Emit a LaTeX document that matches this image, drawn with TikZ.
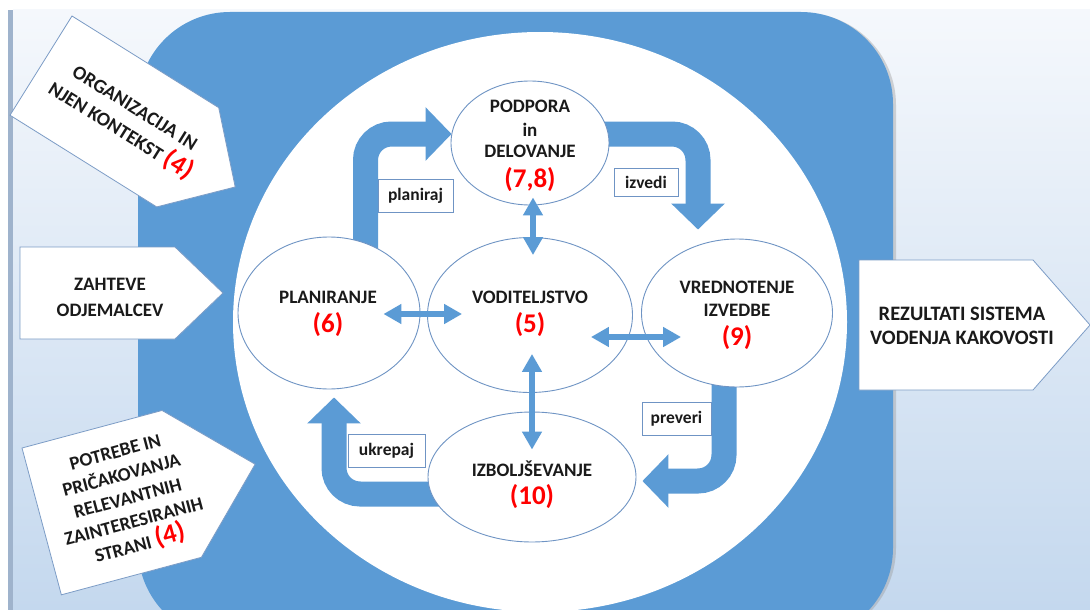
\documentclass[tikz,border=0pt]{standalone}
\usepackage{fontspec}
\setmainfont{Carlito}
\usetikzlibrary{shapes.geometric, arrows.meta, calc}
\definecolor{mblue}{HTML}{5B9BD5}
\definecolor{ebord}{HTML}{6F94C4}
\definecolor{abord}{HTML}{7C9CC6}
\definecolor{bgtop}{HTML}{F5F8FC}
\definecolor{bgbot}{HTML}{C4D8EE}
\definecolor{barc}{HTML}{9FB3CC}
\definecolor{numred}{HTML}{FF0000}
\definecolor{txt}{HTML}{1A1A1A}
\newcommand{\num}[1]{{\color{numred}\fontsize{27}{28}\selectfont #1}}
\pgfdeclarelayer{bg}
\pgfdeclarelayer{arr}
\pgfsetlayers{bg,arr,main}
\begin{document}
\begin{tikzpicture}[x=1pt,y=-1pt,
  bubble/.style={ellipse, draw=ebord, line width=0.9pt, fill=white, inner sep=0pt},
  etext/.style={align=center, font=\fontsize{19}{24}\selectfont\bfseries, text=txt, inner sep=0pt},
  atext/.style={align=center, font=\fontsize{19}{25}\selectfont\bfseries, text=txt, inner sep=0pt},
  lbl/.style={rectangle, draw=ebord, line width=0.9pt, fill=white, text=txt,
              font=\fontsize{17.5}{19}\selectfont\bfseries, inner sep=0pt},
  bent/.style={draw=mblue, line width=25pt, rounded corners=26pt,
               -{Triangle[length=26pt, width=52pt]}},
  dbl/.style={draw=mblue, line width=6.5pt,
              {Triangle[length=18pt,width=19pt]}-{Triangle[length=18pt,width=19pt]}},
  pent/.style={fill=white, draw=abord, line width=0.8pt, line join=miter}
]
\useasboundingbox (0,0) rectangle (1090,610);

\begin{pgfonlayer}{bg}
  \fill[white] (0,0) rectangle (1090,610);
  \shade[top color=bgtop, bottom color=bgbot] (13,10) rectangle (1090,610);
  \fill[barc] (8,10) rectangle (13,610);
  \fill[black!40, opacity=0.4, rounded corners=92pt] (141,13) rectangle (896,640);
  \fill[mblue, rounded corners=92pt] (138,12) rectangle (893,640);
  \fill[white] (540,322) ellipse [x radius=307pt, y radius=290pt];
\end{pgfonlayer}

% ellipses
\node[bubble, minimum width=158pt, minimum height=124pt] (pod) at (530,143) {};
\node[bubble, minimum width=182pt, minimum height=152pt] (plan) at (329,313) {};
\node[bubble, minimum width=205pt, minimum height=155pt] (vod) at (530,315) {};
\node[bubble, minimum width=191pt, minimum height=148pt] (vred) at (737,313) {};
\node[bubble, minimum width=208pt, minimum height=130pt] (izb) at (532,477) {};

\node[etext] (podt) at (530,146) {PODPORA\\in\\[-3pt]DELOVANJE\\[6pt]\num{(7,8)}};
\node[etext] (plant) at (328,314) {PLANIRANJE\\[5pt]\num{(6)}};
\node[etext] (vodt) at (530,314) {VODITELJSTVO\\[5pt]\num{(5)}};
\node[etext] (vredt) at (737,315) {VREDNOTENJE\\[-1pt]IZVEDBE\\[5pt]\num{(9)}};
\node[etext] (izbt) at (532,485) {IZBOLJŠEVANJE\\[4pt]\num{(10)}};

% bent block arrows (behind ellipses)
\begin{pgfonlayer}{arr}
  \draw[bent] ($(plan.center)+(36.5,-20)$) |- ($(pod.west)+(1,-9)$);
  \draw[bent] ($(pod.center)+(30,-9)$) -| ($(vred.north)+(-39,-9)$);
  \draw[bent] ($(vred.center)+(-13,40)$) |- ($(izb.east)+(6,4)$);
  \draw[bent] ($(izb.center)+(-40,17)$) -| ($(plan.south)+(5,8)$);
\end{pgfonlayer}

% double arrows
\draw[dbl] ($(pod.south)+(3,-8)$) -- ($(vod.north)+(3,18)$);
\draw[dbl] ($(plan.east)+(-37,1)$) -- ($(vod.west)+(35,-1)$);
\draw[dbl] ($(vod.east)+(-42,22)$) -- ($(vred.west)+(40,24)$);
\draw[dbl] ($(vod.south)+(2,-39)$) -- ($(izb.north)+(0,38)$);

% labels
\node[lbl, minimum width=75pt, minimum height=33pt] (lplan) at (415.5,195.5) {planiraj};
\node[lbl, minimum width=64pt, minimum height=28pt] (lizv) at (646,182) {izvedi};
\node[lbl, minimum width=69pt, minimum height=33pt] (lprev) at (676.5,418.5) {preveri};
\node[lbl, minimum width=77pt, minimum height=33pt] (lukr) at (386.5,450.5) {ukrepaj};

% input / output arrows
\begin{scope}[shift={(72,16)}, rotate=-32]
  \draw[pent] (0,0) -- (173,0) -- (229,58.5) -- (173,117) -- (0,117) -- cycle;
  \node[atext, transform shape, font=\fontsize{19.5}{27}\selectfont\bfseries] (org) at (102,60)
    {ORGANIZACIJA IN\\NJEN KONTEKST \num{(4)}};
\end{scope}

\draw[pent] (20,247) -- (175,247) -- (223,293) -- (175,339) -- (20,339) -- cycle;
\node[atext, font=\fontsize{19}{26}\selectfont\bfseries] (zaht) at (110,297) {ZAHTEVE\\ODJEMALCEV};

\begin{scope}[shift={(22,448)}, rotate=15]
  \draw[pent] (0,0) -- (145,0) -- (221,76) -- (145,152) -- (0,152) -- cycle;
  \node[atext, transform shape, font=\fontsize{19}{24}\selectfont\bfseries] (potr) at (89,78)
    {POTREBE IN\\PRIČAKOVANJA\\RELEVANTNIH\\ZAINTERESIRANIH\\STRANI \num{(4)}};
\end{scope}

\draw[pent] (859,260) -- (1033,260) -- (1090,325) -- (1033,390) -- (859,390) -- cycle;
\node[atext, font=\fontsize{20.5}{24}\selectfont\bfseries] (rez) at (962,326) {REZULTATI SISTEMA\\VODENJA KAKOVOSTI};
\end{tikzpicture}
\end{document}
